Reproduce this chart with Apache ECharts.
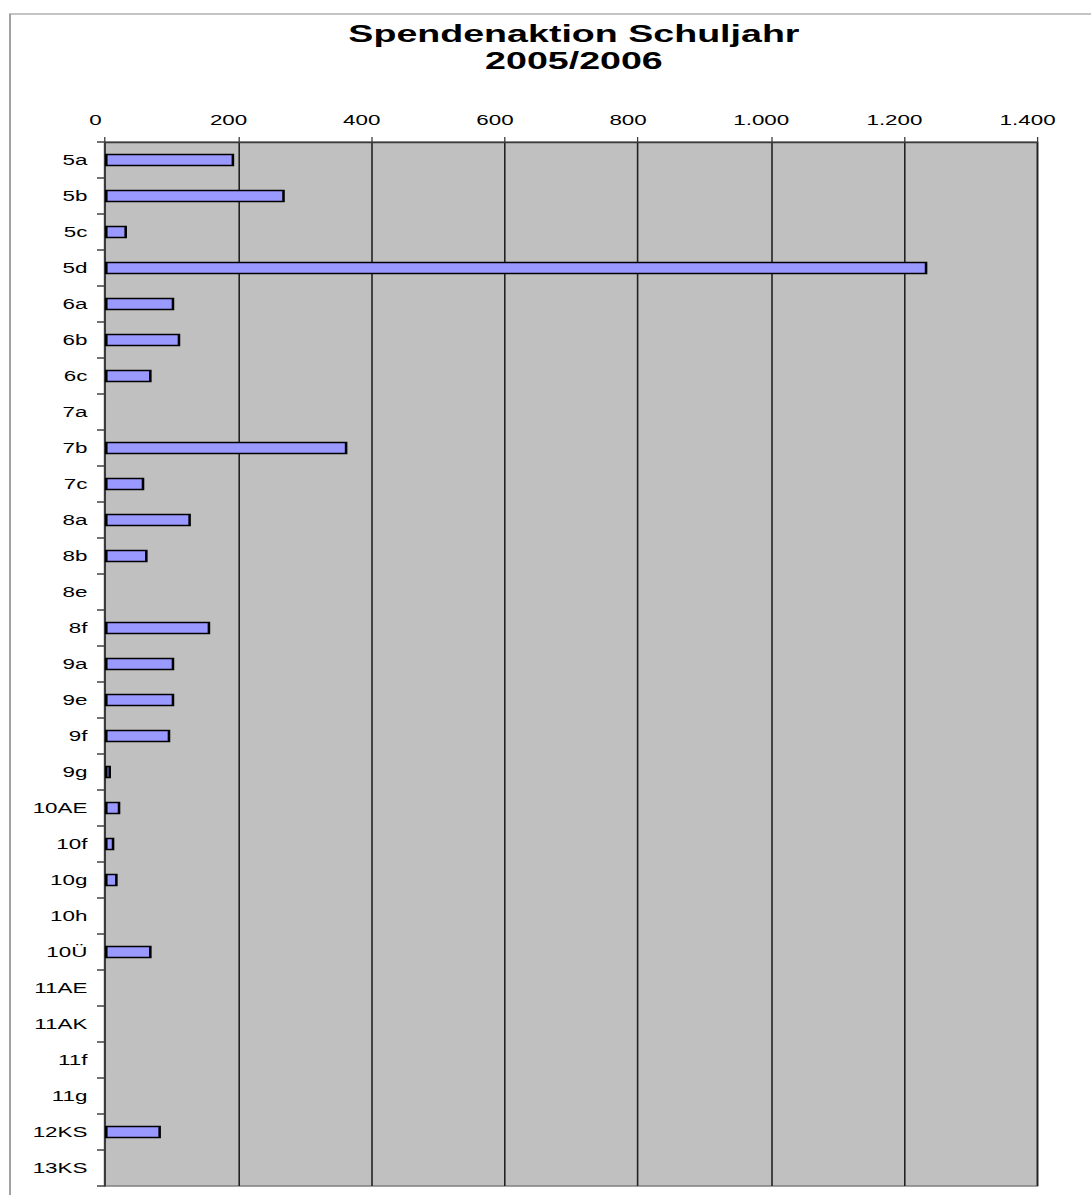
<!DOCTYPE html>
<html>
<head>
<meta charset="utf-8">
<script src="https://cdn.jsdelivr.net/npm/echarts@6/dist/echarts.min.js"></script>
<style>
  html, body { margin: 0; padding: 0; background: #ffffff; overflow: hidden; }
  /* the reference picture is horizontally stretched; reproduce that by stretching the chart */
  #chart { width: 681.875px; height: 1195px; transform: scaleX(1.6); transform-origin: 0 0; }
</style>
</head>
<body>
<div id="chart"></div>
<script>
// ---- data ----
const titleText = 'Spendenaktion Schuljahr\n2005/2006';
const categories = ['5a','5b','5c','5d','6a','6b','6c','7a','7b','7c','8a','8b','8e','8f',
  '9a','9e','9f','9g','10AE','10f','10g','10h','10Ü','11AE','11AK','11f','11g','12KS','13KS'];
const donations = [194, 270, 33, 1235, 104, 113, 70, null, 364, 59, 129, 64, null, 158,
  104, 104, 98, 9, 23, 14, 19, null, 70, null, null, null, null, 84, null];
const axisMin = 0;
const axisMax = 1400;
const axisStep = 200;

function germanNumber(v) {
  return String(v).replace(/\B(?=(\d{3})+(?!\d))/g, '.');
}

const chart = echarts.init(document.getElementById('chart'), null, { renderer: 'svg' });
chart.setOption({
  animation: false,
  backgroundColor: '#ffffff',
  textStyle: { fontFamily: 'Liberation Sans, Arial, sans-serif' },
  title: {
    text: titleText,
    left: 358.7,
    top: 21,
    padding: 0,
    textAlign: 'center',
    textStyle: { fontFamily: 'Liberation Sans, Arial, sans-serif', fontWeight: 'bold', fontSize: 23.5, lineHeight: 27, color: '#000' }
  },
  graphic: [{
    type: 'rect', z: -1, silent: true,
    shape: { x: 6.25, y: 14, width: 2000, height: 2000 },
    style: { fill: 'none', stroke: '#8a8a8a', lineWidth: 1 }
  }],
  grid: {
    left: 65.625, right: 33.75, top: 142, bottom: 9,
    show: true, backgroundColor: '#c0c0c0', borderColor: '#808080', borderWidth: 1.3
  },
  xAxis: {
    type: 'value', position: 'top',
    min: axisMin, max: axisMax, interval: axisStep,
    axisLine: { show: true, lineStyle: { color: '#3a3a3a', width: 1.3 } },
    axisTick: { show: true, length: 5, lineStyle: { color: '#3a3a3a', width: 0.8 } },
    axisLabel: { margin: 15, fontSize: 14, color: '#000', padding: [0, 12, 0, 0], formatter: germanNumber },
    splitLine: { show: true, lineStyle: { color: '#222', width: 1 } }
  },
  yAxis: {
    type: 'category', data: categories, inverse: true,
    axisLine: { show: true, lineStyle: { color: '#3a3a3a', width: 1.2 } },
    axisTick: { show: true, length: 5, alignWithLabel: false, lineStyle: { color: '#444', width: 1.5 } },
    axisLabel: { margin: 11, fontSize: 14, color: '#000', interval: 0 },
    splitLine: { show: false }
  },
  series: [{
    type: 'bar',
    data: donations,
    barWidth: 12.5,
    itemStyle: { color: '#9999ff', borderColor: '#000000', borderWidth: 1.6 },
    silent: true
  }]
});
</script>
</body>
</html>
